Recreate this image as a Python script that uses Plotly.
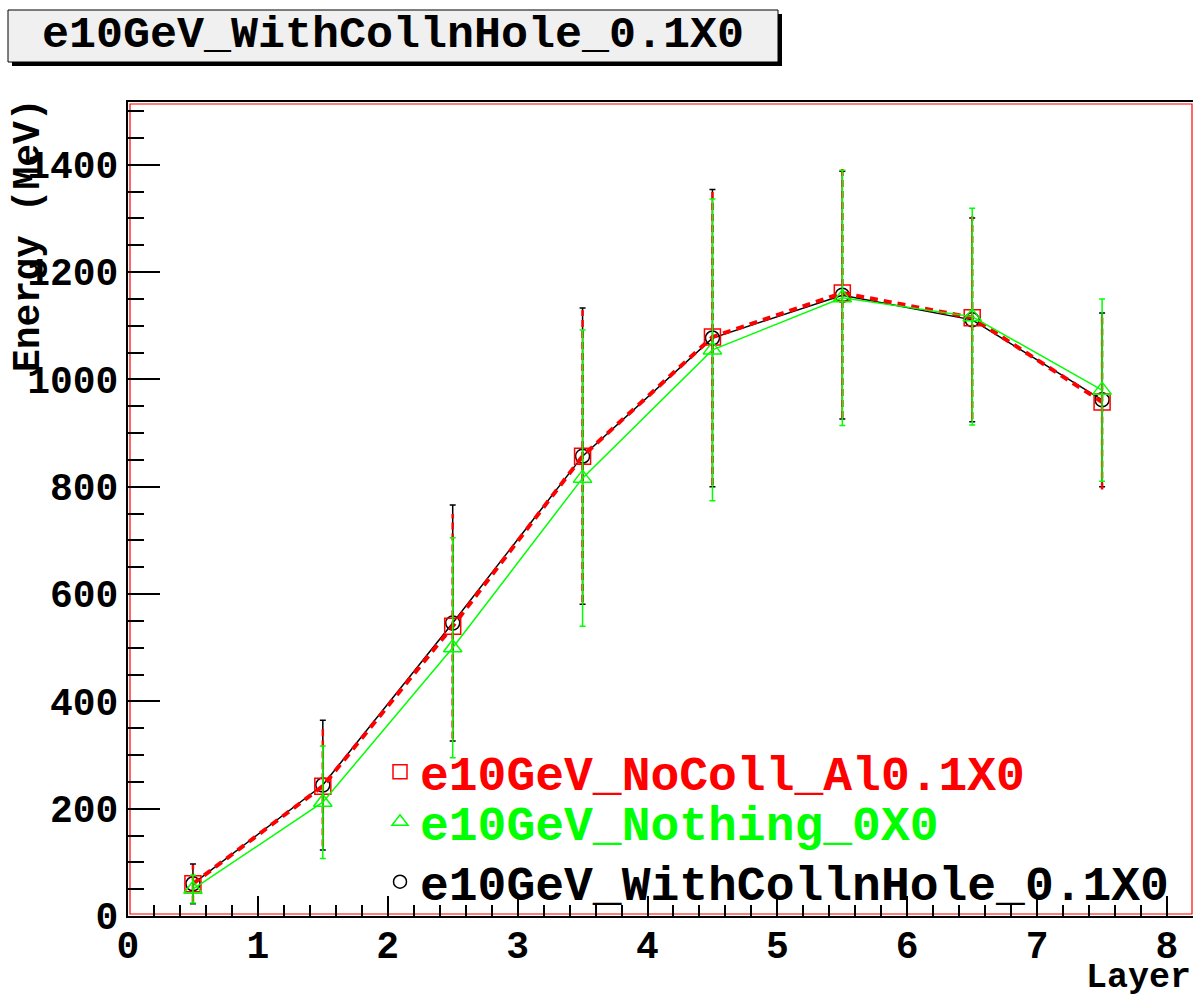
import plotly.graph_objects as go

# ---------------- data ----------------
layers = [0.5, 1.5, 2.5, 3.5, 4.5, 5.5, 6.5, 7.5]

nocoll_name = "e10GeV_NoColl_Al0.1X0"
nocoll_e = [60, 242, 540, 857, 1079, 1161, 1115, 958]
nocoll_err = [35, 112, 209, 272, 276, 233, 189, 163]

nothing_name = "e10GeV_Nothing_0X0"
nothing_e = [50, 212, 500, 816, 1055, 1152, 1117, 980]
nothing_err = [26, 105, 205, 276, 281, 238, 202, 170]

withcoll_name = "e10GeV_WithCollnHole_0.1X0"
withcoll_e = [60, 244, 546, 857, 1077, 1157, 1111, 962]
withcoll_err = [37, 121, 220, 276, 277, 231, 190, 162]

title_text = "e10GeV_WithCollnHole_0.1X0"
x_title = "Layer"
y_title = "Energy (MeV)"
x_range = [0, 8.2]
y_range = [0, 1517]

# ---------------- styling ----------------
W, H = 1194, 994
L, R, T, B = 128, 1, 102, 78
PW, PH = W - L - R, H - T - B
FONT = "Liberation Mono"
RED, GREEN, BLACK = "#ff0000", "#00ff00", "#000000"


def px_x(px):
    return (px - L) / PW


def px_y(py):
    return (H - B - py) / PH


fig = go.Figure()

# black series
fig.add_trace(go.Scatter(
    x=layers, y=withcoll_e, mode="lines+markers", showlegend=False,
    line=dict(color=BLACK, width=1.5),
    marker=dict(symbol="circle-open", size=14, color=BLACK, line=dict(width=1.5)),
    error_y=dict(type="data", array=withcoll_err, color=BLACK, thickness=1.5, width=3),
))

# red series: dashed error bars built from the arrays
ex, ey = [], []
for xv, yv, ev in zip(layers, nocoll_e, nocoll_err):
    ex += [xv, xv, None]
    ey += [yv - ev, yv + ev, None]
fig.add_trace(go.Scatter(
    x=ex, y=ey, mode="lines", showlegend=False, hoverinfo="skip",
    line=dict(color=RED, width=2.5, dash="7px,4px"),
))
fig.add_trace(go.Scatter(
    x=layers, y=nocoll_e, mode="lines+markers", showlegend=False,
    line=dict(color=RED, width=4, dash="8px,6px"),
    marker=dict(symbol="square-open", size=16, color=RED, line=dict(width=1.5)),
    error_y=dict(type="data", array=nocoll_err, color=RED, thickness=0, width=3),
))

# green series
fig.add_trace(go.Scatter(
    x=layers, y=nothing_e, mode="lines+markers", showlegend=False,
    line=dict(color=GREEN, width=1.5),
    marker=dict(symbol="triangle-up-open", size=16, color=GREEN, line=dict(width=1.5)),
    error_y=dict(type="data", array=nothing_err, color=GREEN, thickness=1.5, width=3),
))

# legend entries (markers only), one legend per row
legend_rows = [(nocoll_name, RED, "square-open", 14, "legend", 772),
               (nothing_name, GREEN, "triangle-up-open", 14, "legend2", 822),
               (withcoll_name, BLACK, "circle-open", 13, "legend3", 882)]
legend_layouts = {}
for name, col, sym, sz, lg, ypx in legend_rows:
    fig.add_trace(go.Scatter(
        x=[None], y=[None], mode="markers", legend=lg,
        name=f"<span style='color:{col}'>{name}</span>",
        marker=dict(symbol=sym, size=sz, color=col, line=dict(width=1.5)),
    ))
    legend_layouts[lg] = dict(
        x=px_x(380), y=px_y(ypx), xanchor="left", yanchor="middle",
        bgcolor="rgba(0,0,0,0)", borderwidth=0,
        font=dict(family=FONT, size=48, color=BLACK, weight="bold"),
        itemwidth=30,
    )

axis_font = dict(family=FONT, size=38, color=BLACK, weight="bold")

fig.update_layout(
    width=W, height=H,
    margin=dict(l=L, r=R, t=T, b=B),
    paper_bgcolor="white", plot_bgcolor="white",
    showlegend=True,
    **legend_layouts,
    xaxis=dict(
        range=x_range, showgrid=False, zeroline=False,
        showline=True, linecolor=BLACK, linewidth=2, mirror=True,
        ticks="inside", ticklen=20, tickwidth=1.5, tickcolor=BLACK,
        dtick=1, tick0=0, tickfont=axis_font, ticklabelstandoff=-6,
        minor=dict(ticks="inside", ticklen=11, dtick=0.2, tickwidth=1.5,
                   tickcolor=BLACK, showgrid=False),
    ),
    yaxis=dict(
        range=y_range, showgrid=False, zeroline=False,
        showline=True, linecolor=BLACK, linewidth=2, mirror=False,
        ticks="inside", ticklen=32, tickwidth=1.5, tickcolor=BLACK,
        dtick=200, tick0=0, tickfont=axis_font, ticklabelstandoff=0,
        minor=dict(ticks="inside", ticklen=16, dtick=50, tickwidth=1.5,
                   tickcolor=BLACK, showgrid=False),
    ),
    shapes=[
        # red frame
        dict(type="rect", xref="paper", yref="paper", x0=px_x(130), x1=px_x(1192),
             y0=px_y(914), y1=px_y(104), line=dict(color=RED, width=1.2),
             fillcolor="rgba(0,0,0,0)", layer="below"),
        # title box shadow
        dict(type="rect", xref="paper", yref="paper", x0=px_x(12), x1=px_x(782),
             y0=px_y(66), y1=px_y(14), line=dict(width=0), fillcolor=BLACK),
        # title box
        dict(type="rect", xref="paper", yref="paper", x0=px_x(8), x1=px_x(778),
             y0=px_y(62), y1=px_y(10), line=dict(color=BLACK, width=1),
             fillcolor="#f0f0f0"),
    ],
    annotations=[
        dict(text=title_text, xref="paper", yref="paper", x=px_x(393), y=px_y(36),
             xanchor="center", yanchor="middle", showarrow=False,
             font=dict(family=FONT, size=45, color=BLACK, weight="bold")),
        dict(text=y_title, xref="paper", yref="paper", x=px_x(28), y=px_y(96),
             xanchor="center", yanchor="top", textangle=-90, showarrow=False,
             font=dict(family=FONT, size=38, color=BLACK, weight="bold")),
        dict(text=x_title, xref="paper", yref="paper", x=px_x(1193), y=px_y(978),
             xanchor="right", yanchor="middle", showarrow=False,
             font=dict(family=FONT, size=35, color=BLACK, weight="bold")),
    ],
)

fig.write_html(
    "out.html",
    config={"displayModeBar": False},
    post_script="document.body.style.margin='0';"
                "document.documentElement.style.overflow='hidden';"
                "document.body.style.overflow='hidden';",
)
